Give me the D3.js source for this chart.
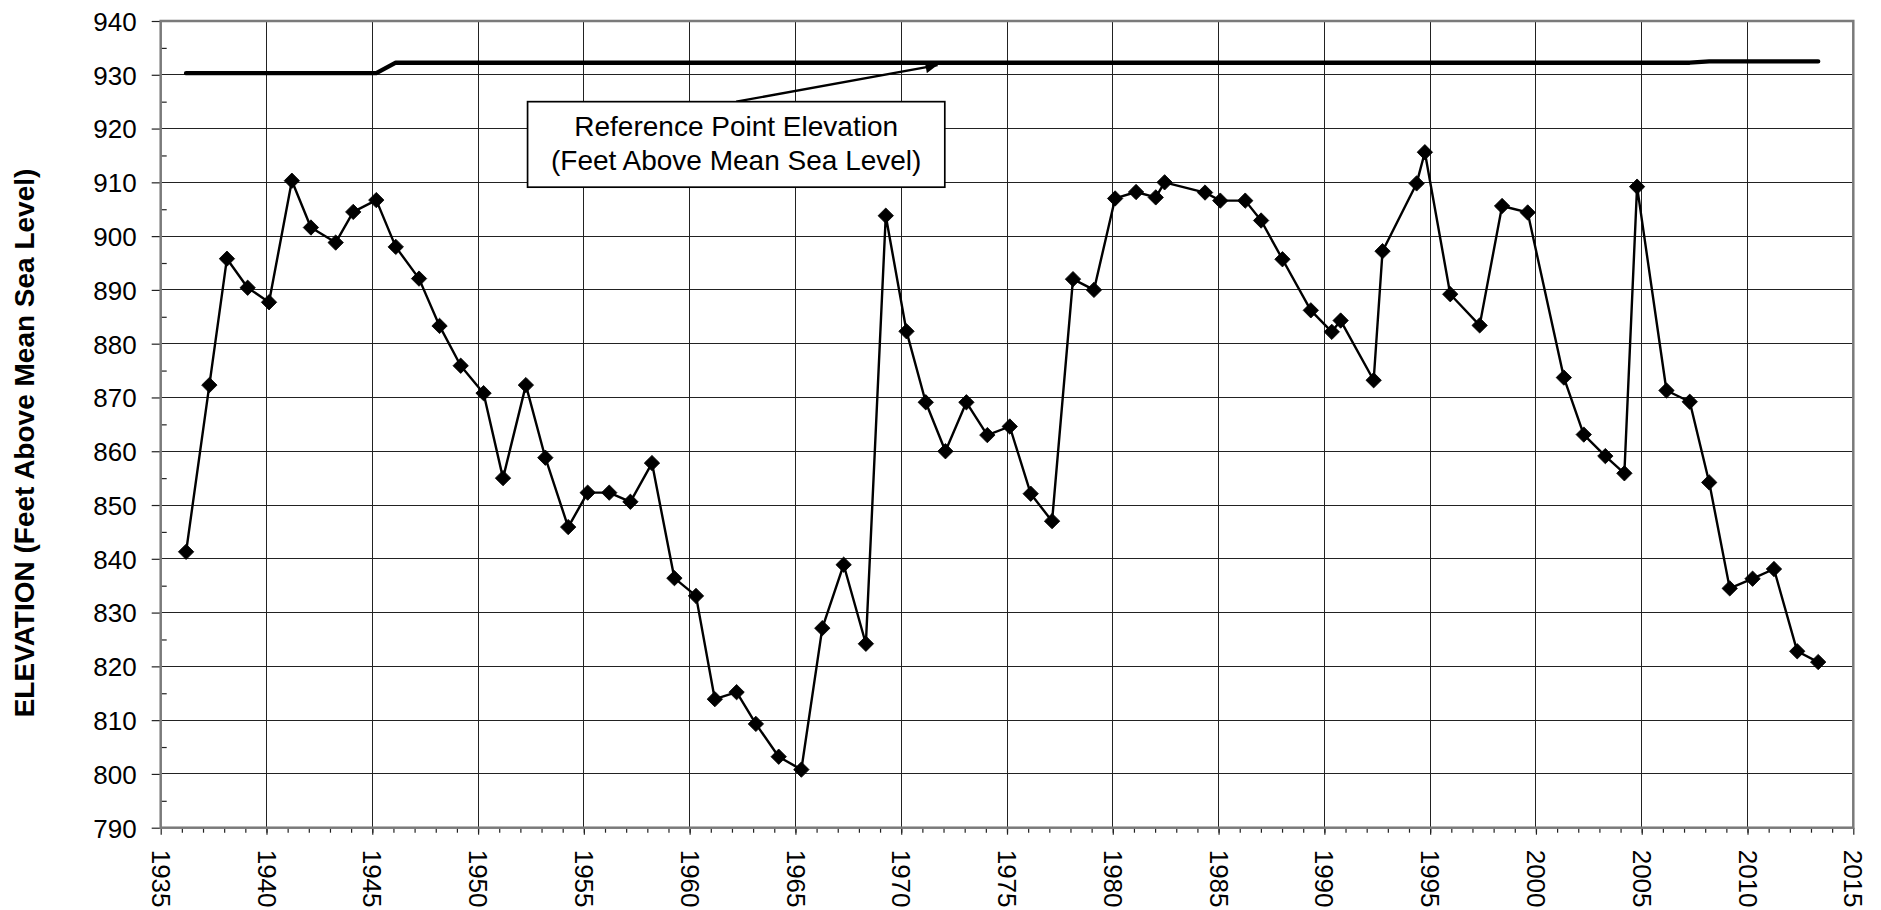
<!DOCTYPE html>
<html><head><meta charset="utf-8">
<script src="https://cdn.jsdelivr.net/npm/d3@7"></script>
<style>
body{margin:0;background:#fff}
svg{display:block}
text{font-family:"Liberation Sans",Arial,Helvetica,sans-serif;fill:#000}
</style>
</head><body>
<svg id="chart" width="1881" height="910"></svg>
<script>
// ---- data ----
const years = [1936.20,1937.30,1938.13,1939.11,1940.12,1941.20,1942.10,1943.27,1944.10,1945.19,
  1946.11,1947.21,1948.18,1949.18,1950.26,1951.18,1952.26,1953.18,1954.26,1955.18,
  1956.20,1957.20,1958.22,1959.28,1960.30,1961.19,1962.22,1963.13,1964.21,1965.28,
  1966.27,1967.28,1968.33,1969.27,1970.25,1971.16,1972.09,1973.08,1974.07,1975.13,
  1976.12,1977.13,1978.12,1979.11,1980.11,1981.10,1982.03,1982.45,1984.36,1985.08,
  1986.26,1987.01,1988.02,1989.36,1990.35,1990.77,1992.33,1992.75,1994.36,1994.75,
  1995.95,1997.34,1998.40,1999.61,2001.32,2002.26,2003.28,2004.18,2004.78,2006.17,
  2007.27,2008.19,2009.16,2010.24,2011.25,2012.35,2013.34];
const elevations = [841.3,872.3,895.8,890.4,887.7,910.3,901.6,898.8,904.5,906.7,
  898.0,892.1,883.3,875.9,870.8,855.0,872.3,858.8,845.9,852.3,
  852.3,850.6,857.8,836.4,833.1,813.9,815.2,809.3,803.2,800.8,
  827.1,838.9,824.2,903.8,882.3,869.1,860.0,869.1,863.0,864.6,
  852.1,847.0,892.0,890.0,907.0,908.2,907.2,910.0,908.1,906.6,
  906.6,902.9,895.7,886.2,882.2,884.3,873.2,897.2,909.8,915.6,
  889.2,883.4,905.6,904.4,873.7,863.1,859.1,855.9,909.2,871.3,
  869.2,854.2,834.5,836.3,838.1,822.8,820.8];
const refYears = [1936.20,1945.19,1946.11,2007.27,2008.19,2013.34];
const refElevations = [930.3,930.3,932.25,932.25,932.5,932.5];
const xTickLabels = [1935,1940,1945,1950,1955,1960,1965,1970,1975,1980,1985,1990,1995,2000,2005,2010,2015];
const yTickLabels = [790,800,810,820,830,840,850,860,870,880,890,900,910,920,930,940];
const yAxisTitle = "ELEVATION (Feet Above Mean Sea Level)";
const annotationLines = ["Reference Point Elevation","(Feet Above Mean Sea Level)"];

// ---- layout ----
const W = 1881, H = 910;
const plot = {left:160.7, right:1853.3, top:21, bottom:827.7};
const x = d3.scaleLinear().domain([1935,2015]).range([plot.left, plot.right]);
const y = d3.scaleLinear().domain([790,940]).range([plot.bottom, plot.top]);
const svg = d3.select("#chart");
svg.append("rect").attr("width",W).attr("height",H).attr("fill","#fff");

// gridlines
const grid = svg.append("g").attr("stroke","#222").attr("stroke-width",1).attr("shape-rendering","crispEdges");
grid.selectAll("line.h").data(yTickLabels).join("line").attr("class","h")
  .attr("x1",plot.left).attr("x2",plot.right).attr("y1",d=>y(d)).attr("y2",d=>y(d));
grid.selectAll("line.v").data(xTickLabels).join("line").attr("class","v")
  .attr("y1",plot.top).attr("y2",plot.bottom).attr("x1",d=>x(d)).attr("x2",d=>x(d));

// y axis
const yAxis = svg.append("g").attr("transform",`translate(${plot.left},0)`)
  .call(d3.axisLeft(y).tickValues(yTickLabels).tickSize(9).tickPadding(15).tickFormat(d3.format("d")));
yAxis.select(".domain").remove();
yAxis.selectAll("line").attr("stroke","#222").attr("stroke-width",1.2);
yAxis.selectAll("text").attr("font-size",26).attr("dy","0.36em");
const yMinor = svg.append("g").attr("transform",`translate(${plot.left},0)`)
  .call(d3.axisLeft(y).tickValues(d3.range(795,940,10)).tickSize(-6).tickFormat(""));
yMinor.select(".domain").remove();
yMinor.selectAll("line").attr("stroke","#222").attr("stroke-width",1.2);

// x axis
const xAxis = svg.append("g").attr("transform",`translate(0,${plot.bottom})`)
  .call(d3.axisBottom(x).tickValues(xTickLabels).tickSize(7).tickFormat(d3.format("d")));
xAxis.select(".domain").remove();
xAxis.selectAll("line").attr("stroke","#222").attr("stroke-width",1.2);
xAxis.selectAll("text").attr("font-size",26)
  .attr("transform","rotate(90)").attr("x",22).attr("y",0).attr("dy","0.36em")
  .style("text-anchor","start");
const xMinor = svg.append("g").attr("transform",`translate(0,${plot.bottom})`)
  .call(d3.axisBottom(x).tickValues(d3.range(1936,2015)).tickSize(5).tickFormat(""));
xMinor.select(".domain").remove();
xMinor.selectAll("line").attr("stroke","#222").attr("stroke-width",1.2);

// plot border
svg.append("rect").attr("x",plot.left).attr("y",plot.top)
  .attr("width",plot.right-plot.left).attr("height",plot.bottom-plot.top)
  .attr("fill","none").attr("stroke","#7a7a7a").attr("stroke-width",2.5);

// y axis title
svg.append("text").attr("transform",`translate(24,443) rotate(-90)`)
  .attr("text-anchor","middle").attr("dominant-baseline","central")
  .attr("font-size",28).attr("font-weight","bold").text(yAxisTitle);

// reference point elevation line
const refData = refYears.map((t,i)=>({t, v:refElevations[i]}));
svg.append("path").datum(refData)
  .attr("d",d3.line().x(d=>x(d.t)).y(d=>y(d.v)))
  .attr("fill","none").attr("stroke","#000").attr("stroke-width",4.4)
  .attr("stroke-linecap","round").attr("stroke-linejoin","round");

// water level series
const data = years.map((t,i)=>({t, v:elevations[i]}));
svg.append("path").datum(data)
  .attr("d",d3.line().x(d=>x(d.t)).y(d=>y(d.v)))
  .attr("fill","none").attr("stroke","#000").attr("stroke-width",2.4)
  .attr("stroke-linejoin","round");
const diamond = d3.symbol().type(d3.symbolSquare).size(118)();
svg.append("g").selectAll("path").data(data).join("path")
  .attr("d",diamond)
  .attr("transform",d=>`translate(${x(d.t)},${y(d.v)}) rotate(45)`)
  .attr("fill","#000").attr("stroke","#000").attr("stroke-width",0.8)
  .attr("stroke-linejoin","round");

// annotation (anchored in data units)
const box = {t0:1952.34, t1:1972.06, v0:925.0, v1:909.1};
const arrowFrom = {t:1962.2, v:925.0};
const arrowTo = {t:1971.72, v:931.8};
svg.append("defs").append("marker").attr("id","ah")
  .attr("viewBox","0 0 10 10").attr("refX",10).attr("refY",5)
  .attr("markerWidth",6).attr("markerHeight",5).attr("markerUnits","strokeWidth")
  .attr("orient","auto")
  .append("path").attr("d","M0,0L10,5L0,10Z").attr("fill","#000");
svg.append("line")
  .attr("x1",x(arrowFrom.t)).attr("y1",y(arrowFrom.v))
  .attr("x2",x(arrowTo.t)).attr("y2",y(arrowTo.v))
  .attr("stroke","#000").attr("stroke-width",2.4).attr("marker-end","url(#ah)");
svg.append("rect")
  .attr("x",x(box.t0)).attr("y",y(box.v0))
  .attr("width",x(box.t1)-x(box.t0)).attr("height",y(box.v1)-y(box.v0))
  .attr("fill","#fff").attr("stroke","#000").attr("stroke-width",1.7);
const cx = (x(box.t0)+x(box.t1))/2;
svg.append("text").attr("x",cx).attr("y",135.7).attr("text-anchor","middle")
  .attr("font-size",28).text(annotationLines[0]);
svg.append("text").attr("x",cx).attr("y",170).attr("text-anchor","middle")
  .attr("font-size",28).text(annotationLines[1]);
</script>
</body></html>
